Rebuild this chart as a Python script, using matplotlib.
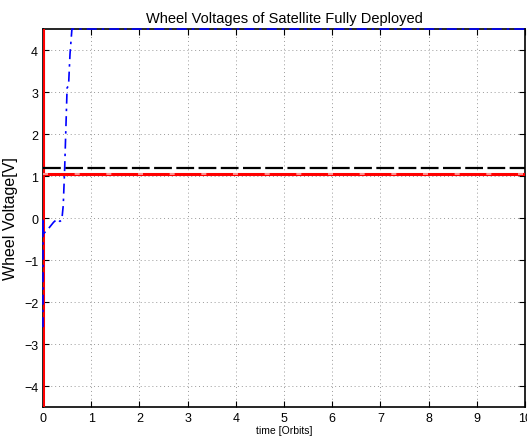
import numpy as np
import matplotlib
matplotlib.use('Agg')
import matplotlib.pyplot as plt

plt.rcParams['font.family'] = ['Liberation Sans', 'DejaVu Sans']

# wheel 1 (blue, dashed) - saturates at top after ~0.6 orbits
blue_t = [0.0, 0.0, 0.0, 0.03, 0.08, 0.15, 0.22, 0.30, 0.35, 0.39, 0.42, 0.45, 0.50, 0.53, 0.56, 0.60, 10.0]
blue_v = [-2.6, 0.0, -0.4, -0.35, -0.3, -0.2, -0.1, -0.02, -0.08, -0.05, 0.3, 1.2, 3.1, 3.15, 3.9, 4.5, 4.5]

# wheel 2 (black, dashed)
black_t = [0.0, 10.0]
black_v = [1.2, 1.2]

# wheel 3 (red, solid) - initial spike at t=0
red_t = [0.0, 0.0, 0.0, 10.0]
red_v = [-4.5, 4.5, 1.05, 1.05]

xticks = np.arange(0, 11, 1)
yticks = np.arange(-4, 5, 1)

fig = plt.figure(figsize=(5.27, 4.39), dpi=100)
ax = fig.add_axes([0.0816, 0.0706, 0.9146, 0.861])

ax.grid(True, ls=(0, (1, 3)), color='#999999', lw=0.7)
ax.set_axisbelow(True)

ax.plot(red_t, red_v, color='red', lw=2.2, solid_capstyle='butt')
ax.plot(red_t[2:], red_v[2:], color='#ffaaaa', lw=1.2, ls=(0, (3, 16)))
ax.plot(black_t, black_v, color='black', lw=1.6, ls=(0, (8, 2)))
ax.plot(blue_t, blue_v, color='blue', lw=1.2, ls=(0, (6, 3, 1.5, 3)), clip_on=False)

ax.set_xlim(0, 10)
ax.set_ylim(-4.5, 4.5)
ax.set_xticks(xticks)
ax.set_yticks(yticks)
ax.set_yticklabels([str(v).replace('-', '\u2212') for v in yticks])
ax.tick_params(direction='in', top=True, right=True, labelsize=9, length=4)

for sp in ax.spines.values():
    sp.set_linewidth(1.2)
    sp.set_zorder(1.5)

ax.set_title('Wheel Voltages of Satellite Fully Deployed', fontsize=10.5, pad=5)
ax.set_ylabel('Wheel Voltage[V]', fontsize=11.5, labelpad=4)
ax.set_xlabel('time [Orbits]', fontsize=7.5, labelpad=1)

fig.savefig('out.png', dpi=100)
